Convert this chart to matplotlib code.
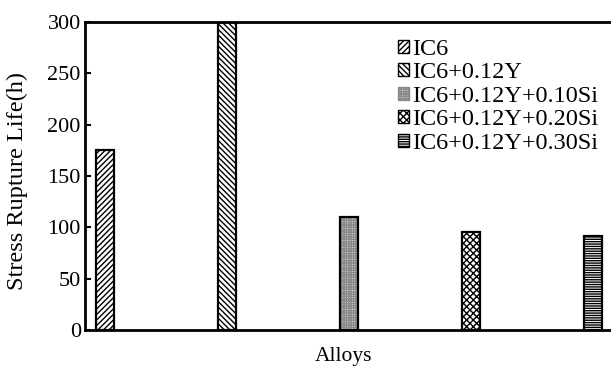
import matplotlib
matplotlib.use("Agg")
import matplotlib.pyplot as plt
from matplotlib.patches import Patch

categories = ["IC6", "IC6+0.12Y", "IC6+0.12Y+0.10Si", "IC6+0.12Y+0.20Si", "IC6+0.12Y+0.30Si"]
values = [175, 300, 110, 95, 92]
hatches = ["//////", "\\\\\\\\\\\\", "+++++++", "xxxxx", "-------"]
faces = ["white", "white", "#e8e8e8", "white", "white"]
hatch_colors = ["black", "black", "#8a8a8a", "black", "black"]

plt.rcParams['font.family'] = ['Liberation Serif', 'DejaVu Serif']
plt.rcParams['hatch.linewidth'] = 1.0

W, H = 611, 366
fig = plt.figure(figsize=(W/100, H/100), dpi=100)
ax = fig.add_axes([85/W, 1-330/H, (615-85)/W, (330-22)/H])

x = list(range(len(values)))
# hatch layer (hatch colour taken from edge colour), then black outline
ax.bar(x, values, width=0.14, color=faces, edgecolor=hatch_colors, linewidth=0,
       hatch=hatches)
ax.bar(x, values, width=0.14, fill=False, edgecolor="black", linewidth=1.6)

ax.set_xlim(-0.164, 4.18)
ax.set_ylim(0, 300)
ax.set_yticks([0, 50, 100, 150, 200, 250, 300])
ax.set_xticks([])
ax.tick_params(axis='y', direction='in', length=4, width=1.5, labelsize=16, pad=3)
for s in ax.spines.values():
    s.set_linewidth(2)
ax.set_ylabel("Stress Rupture Life(h)", fontsize=17.5)
ax.yaxis.set_label_coords((28-85)/(615-85), (330-181)/308)
ax.set_xlabel("Alloys", fontsize=15.5)
ax.xaxis.set_label_coords((344-85)/(615-85), -0.055)

handles = [Patch(facecolor=f, edgecolor=hc, hatch=h, label=c, linewidth=1)
           for f, h, hc, c in zip(faces, hatches, hatch_colors, categories)]
leg = ax.legend(handles=handles, loc="upper left", bbox_to_anchor=(398/W, 1-39/H),
                bbox_transform=fig.transFigure, frameon=False, fontsize=17.5,
                handlelength=0.45, handleheight=0.45, handletextpad=0.12,
                labelspacing=0.1, borderpad=0, borderaxespad=0)

fig.savefig("out.png", dpi=100)
